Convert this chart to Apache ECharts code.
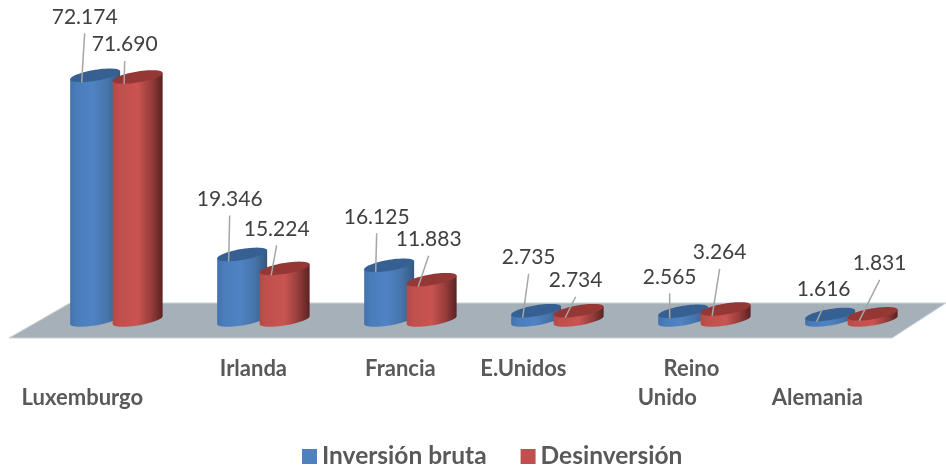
<!DOCTYPE html>
<html><head><meta charset="utf-8">
<style>html,body{margin:0;padding:0;background:#fff}#c{width:946px;height:472px}</style>
<script src="https://cdn.jsdelivr.net/npm/echarts@6/dist/echarts.min.js"></script>
</head><body><div id="c"></div>
<script>
const categories = ['Luxemburgo','Irlanda','Francia','E.Unidos','Reino Unido','Alemania'];
const inversionBruta = [72174,19346,16125,2735,2565,1616];
const desinversion = [71690,15224,11883,2734,3264,1831];
const inversionLabels = ['72.174','19.346','16.125','2.735','2.565','1.616'];
const desinversionLabels = ['71.690','15.224','11.883','2.734','3.264','1.831'];

// leader-line tip offsets from the cylinder's top centre (style only)
const blueTips = [[-10.5,-42],[-12.5,-39],[-12.5,-32],[-7.5,-37],[-13.5,-18],[-6.5,-8.5]];
const redTips = [[-13,-16],[-8,-23],[-3,-24],[-3,-14],[-6,-40],[7,-34]];

const LABEL_FONT = '400 21px Lato, sans-serif';

function sheared(cx, cy, a, s, b, t0, t1, n) {
  const p = [];
  for (let i = 0; i <= n; i++) {
    const t = t0 + (t1 - t0) * i / n;
    p.push([cx + a * Math.cos(t), cy - s * Math.cos(t) + b * Math.sin(t)]);
  }
  return p;
}

function cylinder(labels, tips, sign, stops, topColor) {
  return function (params, api) {
    const i = api.value(0), v = api.value(1);
    const band = api.size([1, 0])[0];
    const base = api.coord([i, 0]);
    const top = api.coord([i, v]);
    const cx = base[0] + sign * band * 0.1445;
    const a = band * 0.17, s = 4, b = 5.5;
    const lower = sheared(cx, base[1], a, s, b, Math.PI, 0, 40);
    const body = [[cx - a, top[1] + s]].concat(lower, [[cx + a, top[1] - s]]);
    const lid = sheared(cx, top[1], a, s, b, 0, Math.PI * 2, 60);
    const tip = tips[params.dataIndex];
    const tx = cx + tip[0], ty = top[1] + tip[1];
    return {
      type: 'group',
      children: [
        { type: 'polygon', shape: { points: body }, style: {
            fill: new echarts.graphic.LinearGradient(0, 0, 1, 0, stops) } },
        { type: 'polygon', shape: { points: lid }, style: { fill: topColor } },
        { type: 'line', shape: { x1: cx - 13.5, y1: top[1] + 7, x2: tx, y2: ty },
          style: { stroke: '#a6a6a6', lineWidth: 1.5 } },
        { type: 'text', style: { text: labels[params.dataIndex], x: tx, y: ty - 16.5,
            align: 'center', verticalAlign: 'middle', fill: '#404040', font: LABEL_FONT } }
      ]
    };
  };
}

const blueStops = [
  {offset:0,color:'#4272ad'},{offset:0.12,color:'#4a7cba'},{offset:0.45,color:'#4f83c3'},
  {offset:0.75,color:'#4674aa'},{offset:1,color:'#34587f'}];
const redStops = [
  {offset:0,color:'#b54a47'},{offset:0.15,color:'#c0504d'},{offset:0.5,color:'#c95451'},
  {offset:0.78,color:'#943c3a'},{offset:1,color:'#5a2221'}];

const catStyle = {fontSize:22, fontWeight:'bold', color:'#595959', fontFamily:'Lato, sans-serif'};

const chart = echarts.init(document.getElementById('c'), null, {renderer:'canvas'});
chart.setOption({
  animation: false,
  backgroundColor: '#fff',
  grid: { left: 42.9, width: 882, top: 14.9, height: 305.1, containLabel: false },
  xAxis: {
    type: 'category', data: categories,
    axisLine: {show:false}, axisTick: {show:false}, splitLine: {show:false},
    axisLabel: {
      interval: 0, margin: 34, color: '#595959', fontFamily: 'Lato, sans-serif',
      fontWeight: 'bold', fontSize: 22, lineHeight: 29,
      formatter: function (name) {
        if (name === 'Luxemburgo') return '{lux|' + name + '}';
        if (name === 'Irlanda' || name === 'Francia') return '{near|' + name + '}';
        if (name === 'E.Unidos') return '{eu|' + name + '}';
        if (name === 'Alemania') return '{ale|' + name + '}';
        const w = name.split(' ');
        return '{re|' + w[0] + '}\n{un|' + w[1] + '}';
      },
      rich: {
        lux: Object.assign({padding:[58,68,0,0]}, catStyle),
        near:Object.assign({padding:[0,20,0,0]}, catStyle),
        eu:  Object.assign({padding:[0,68,0,0]}, catStyle),
        ale: Object.assign({padding:[58,68,0,0]}, catStyle),
        re:  Object.assign({padding:[0,26,0,0]}, catStyle),
        un:  Object.assign({padding:[0,74,0,0]}, catStyle)
      }
    }
  },
  yAxis: { type: 'value', min: 0, max: 90000, show: false },
  legend: {
    left: 297, top: 439, itemWidth: 15, itemHeight: 15, itemGap: 34, icon: 'rect',
    selectedMode: false,
    textStyle: { color: '#595959', fontFamily: 'Lato, sans-serif', fontWeight: 'bold', fontSize: 24.5 },
    data: ['Inversión bruta','Desinversión']
  },
  graphic: [{
    type: 'polygon', z: 0, silent: true,
    shape: { points: [[70,303],[946,303],[892,338],[9,338]] },
    style: { fill: '#a6b0b8', stroke: '#cdd3d8', lineWidth: 1 }
  }],
  series: [
    { name:'Inversión bruta', type:'custom', itemStyle:{color:'#4f81bd'}, silent:true,
      renderItem: cylinder(inversionLabels, blueTips, -1, blueStops, '#376092'),
      encode:{x:0,y:1}, data: inversionBruta.map((v,i)=>[categories[i],v]) },
    { name:'Desinversión', type:'custom', itemStyle:{color:'#c0504d'}, silent:true,
      renderItem: cylinder(desinversionLabels, redTips, 1, redStops, '#953735'),
      encode:{x:0,y:1}, data: desinversion.map((v,i)=>[categories[i],v]) }
  ]
});
</script></body></html>
